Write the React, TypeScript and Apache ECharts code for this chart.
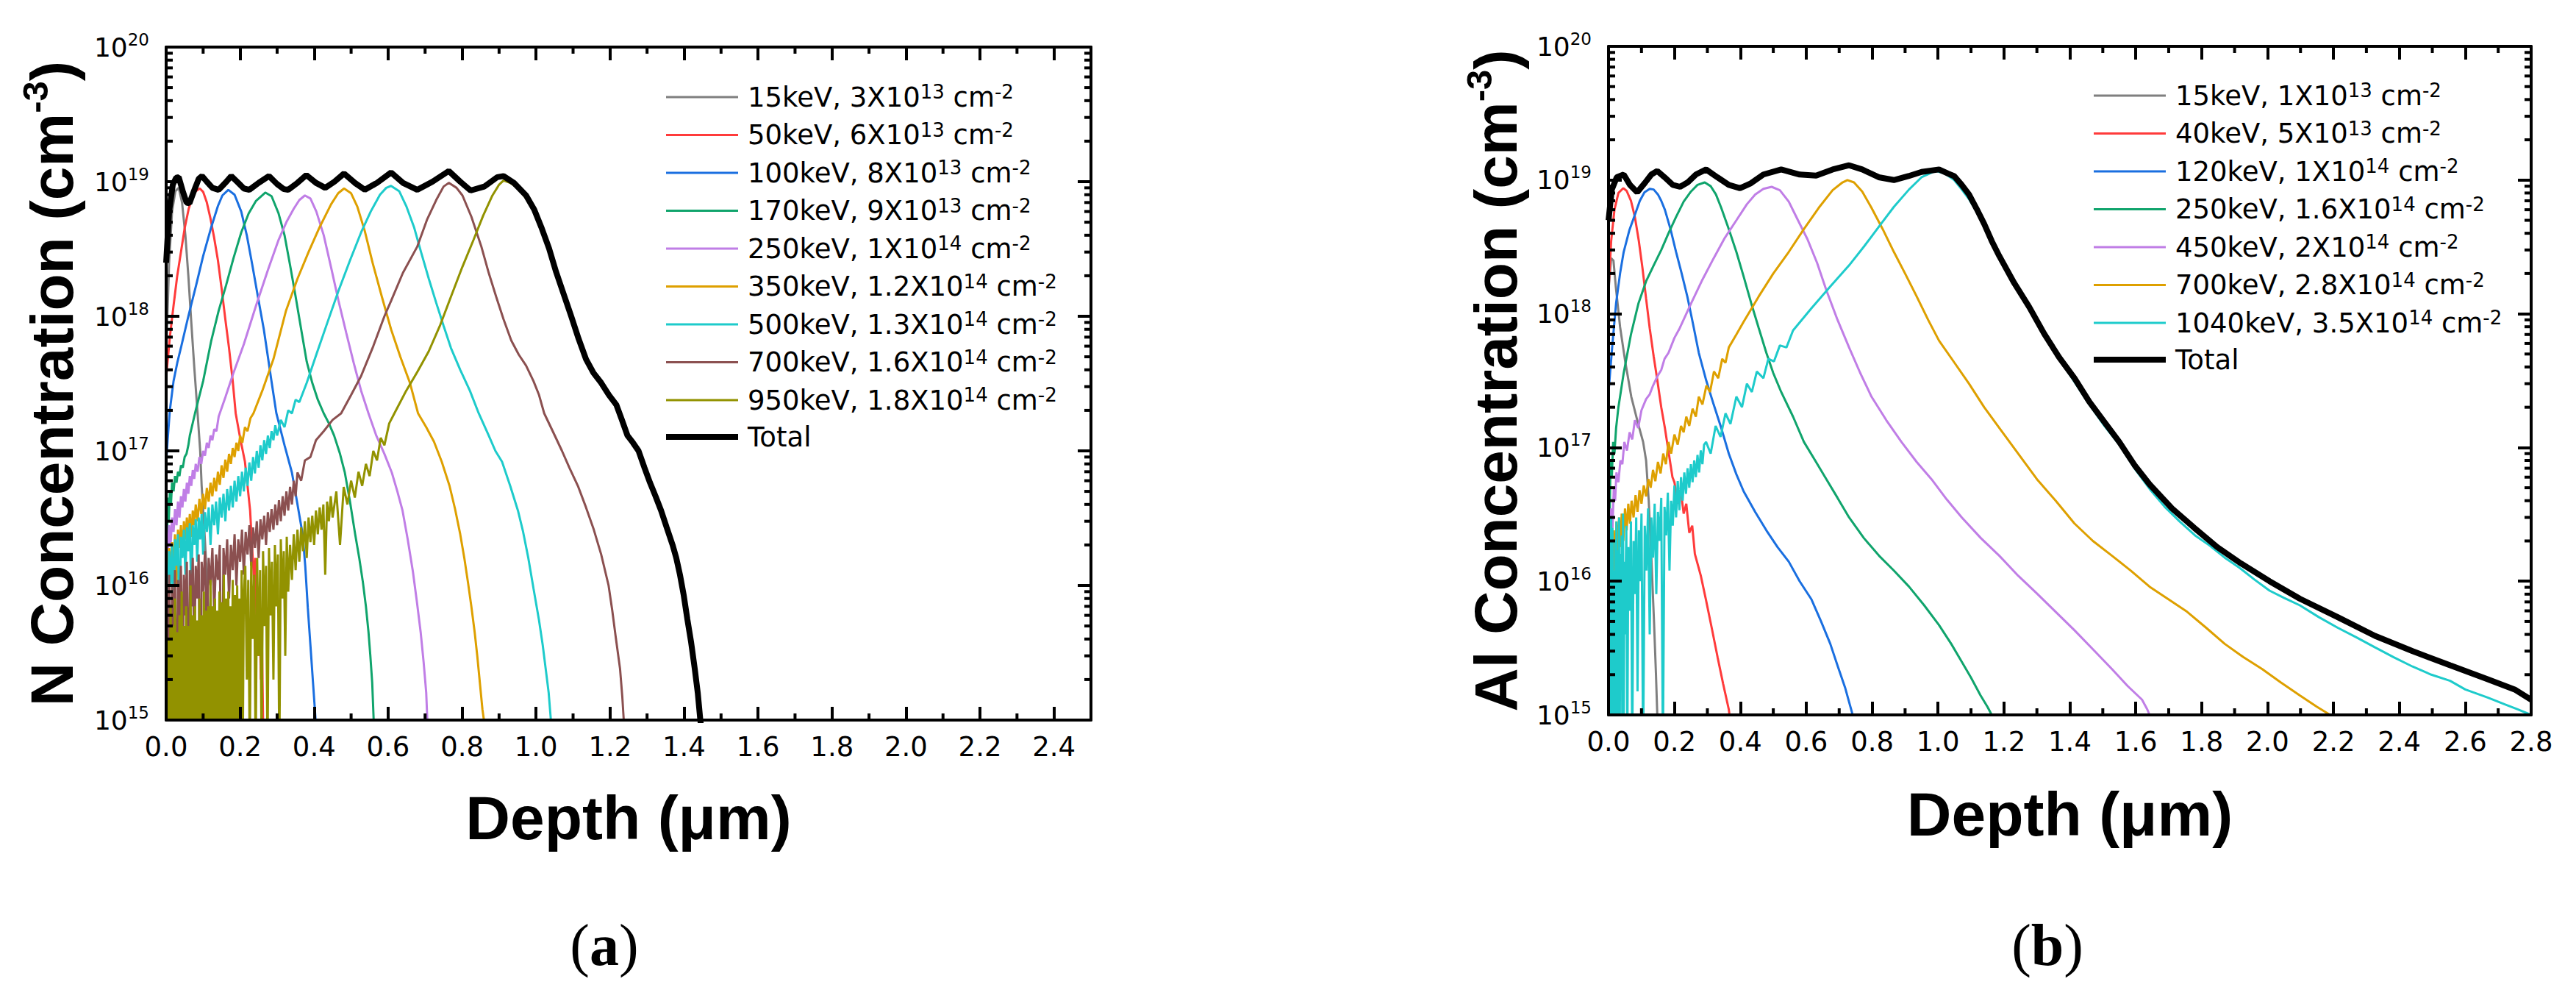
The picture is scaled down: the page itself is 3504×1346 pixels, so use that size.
import React, { useEffect, useRef } from "react";
import * as echarts from "echarts";

type Pt = [number, number];

// ---------------- Panel (a): N implantation ----------------
const nEnergies = ["15keV", "50keV", "100keV", "170keV", "250keV", "350keV", "500keV", "700keV", "950keV"];
const nDoseMant = ["3", "6", "8", "9", "1", "1.2", "1.3", "1.6", "1.8"];
const nDoseExp = ["13", "13", "13", "13", "14", "14", "14", "14", "14"];

const n15: Pt[] = [[0,5e17],[0.008,2.5e18],[0.016,6e18],[0.025,8.5e18],[0.034,9e18],[0.043,7e18],[0.052,4e18],[0.06,2e18],[0.068,9e17],[0.076,4.2e17],[0.085,1.9e17],[0.092,1e17],[0.096,5.5e16],[0.102,3e16],[0.108,1.5e16],[0.115,6e15],[0.122,2.5e15],[0.13,1e15],[0.136,6e14]];
const n50: Pt[] = [[0,3.5e17],[0.01,7e17],[0.02,1.2e18],[0.03,2e18],[0.04,3e18],[0.05,4.5e18],[0.061,6.3e18],[0.07,7.5e18],[0.08,8.5e18],[0.091,8.9e18],[0.1,8.4e18],[0.11,7e18],[0.12,5.3e18],[0.13,3.8e18],[0.14,2.6e18],[0.15,1.6e18],[0.16,9.5e17],[0.17,5.8e17],[0.18,3.3e17],[0.188,1.9e17],[0.2,1.25e17],[0.213,8.3e16],[0.22,5.5e16],[0.227,3.6e16],[0.232,2e16],[0.238,1.05e16],[0.241,1.6e16],[0.244,6e15],[0.247,9e15],[0.25,3e15],[0.253,6e15],[0.256,2e15],[0.259,4e15],[0.262,1e15],[0.265,6e14]];
const n100: Pt[] = [[0,8e16],[0.004,1.2e17],[0.01,2e17],[0.02,3.3e17],[0.03,4.5e17],[0.041,6e17],[0.06,1e18],[0.081,1.7e18],[0.1,2.8e18],[0.122,4.6e18],[0.14,6.6e18],[0.152,7.9e18],[0.168,8.7e18],[0.185,8e18],[0.203,6e18],[0.218,4e18],[0.233,2.4e18],[0.248,1.4e18],[0.264,8e17],[0.275,5e17],[0.284,3.4e17],[0.298,1.9e17],[0.32,1.1e17],[0.34,6.9e16],[0.355,4e16],[0.369,2.4e16],[0.376,1.4e16],[0.383,6.8e15],[0.39,3.6e15],[0.397,1.9e15],[0.404,1e15],[0.41,6e14]];
const n170: Pt[] = [[0,3e16],[0.002,1.5e16],[0.004,4.5e16],[0.007,3e16],[0.01,5e16],[0.013,4e16],[0.016,5.8e16],[0.02,5e16],[0.024,6.5e16],[0.028,5.8e16],[0.032,7e16],[0.036,6.5e16],[0.04,7.8e16],[0.045,7.5e16],[0.05,9e16],[0.055,9.5e16],[0.06,1.1e17],[0.064,1.3e17],[0.078,1.9e17],[0.1,3.3e17],[0.122,6.6e17],[0.142,1.1e18],[0.162,1.7e18],[0.182,2.7e18],[0.203,4.2e18],[0.223,5.8e18],[0.243,7.2e18],[0.268,8.3e18],[0.285,7.8e18],[0.304,5.8e18],[0.32,4e18],[0.335,2.4e18],[0.35,1.4e18],[0.365,8e17],[0.38,4.6e17],[0.395,3.2e17],[0.41,2.4e17],[0.426,1.9e17],[0.44,1.6e17],[0.454,1.3e17],[0.47,9.5e16],[0.483,6.9e16],[0.497,4.2e16],[0.511,2.4e16],[0.522,1.6e16],[0.532,1.05e16],[0.54,7e15],[0.547,4.5e15],[0.552,3e15],[0.557,1.9e15],[0.561,1e15],[0.565,6e14]];
const n250: Pt[] = [[0,2.3e16],[0.004,1.6e16],[0.008,2.8e16],[0.012,2e16],[0.016,3.2e16],[0.02,2.5e16],[0.024,3.7e16],[0.028,2.8e16],[0.032,4.2e16],[0.036,3.2e16],[0.04,4.6e16],[0.044,3.8e16],[0.048,5.2e16],[0.052,4.2e16],[0.056,5.8e16],[0.06,4.8e16],[0.064,6.5e16],[0.068,5.5e16],[0.072,7.2e16],[0.076,6.2e16],[0.08,8e16],[0.085,7e16],[0.09,9e16],[0.095,8e16],[0.1,1e17],[0.105,9.2e16],[0.11,1.15e17],[0.115,1.05e17],[0.12,1.3e17],[0.125,1.2e17],[0.13,1.45e17],[0.136,1.4e17],[0.142,1.8e17],[0.16,2.5e17],[0.182,3.8e17],[0.21,6.2e17],[0.243,1.2e18],[0.275,2.2e18],[0.304,3.7e18],[0.325,5e18],[0.345,6.3e18],[0.36,7.3e18],[0.375,7.9e18],[0.39,7.5e18],[0.406,6e18],[0.426,4e18],[0.446,2.3e18],[0.466,1.3e18],[0.487,7.5e17],[0.507,4.5e17],[0.527,2.8e17],[0.547,1.9e17],[0.568,1.3e17],[0.59,9.5e16],[0.61,6.9e16],[0.625,5e16],[0.639,3.6e16],[0.653,2.2e16],[0.667,1.27e16],[0.678,7.5e15],[0.688,4.5e15],[0.696,2.7e15],[0.703,1.6e15],[0.706,1e15],[0.71,6e14]];
const n350: Pt[] = [[0,1.6e16],[0.004,8e15],[0.008,1.9e16],[0.012,1.2e16],[0.016,2.1e16],[0.02,1.5e16],[0.024,2.4e16],[0.028,1e16],[0.032,2.6e16],[0.036,1.9e16],[0.04,2.8e16],[0.044,1.7e16],[0.048,3e16],[0.052,2.2e16],[0.056,3.2e16],[0.06,2.4e16],[0.064,3.4e16],[0.068,2.3e16],[0.072,3.6e16],[0.076,2.8e16],[0.08,4e16],[0.085,3e16],[0.09,4.4e16],[0.095,3.4e16],[0.1,4.8e16],[0.105,3.7e16],[0.11,5.3e16],[0.115,4.2e16],[0.12,5.8e16],[0.125,4.6e16],[0.13,6.3e16],[0.135,5e16],[0.14,7e16],[0.145,5.6e16],[0.15,7.8e16],[0.155,6.3e16],[0.16,8.6e16],[0.165,7e16],[0.17,9.5e16],[0.175,8e16],[0.18,1.05e17],[0.185,9e16],[0.19,1.15e17],[0.195,1e17],[0.2,1.3e17],[0.206,1.15e17],[0.213,1.5e17],[0.22,1.4e17],[0.228,1.75e17],[0.236,1.9e17],[0.26,2.8e17],[0.29,4.8e17],[0.324,1.1e18],[0.355,1.9e18],[0.385,3e18],[0.415,4.6e18],[0.446,6.8e18],[0.465,8.2e18],[0.481,8.9e18],[0.5,8.2e18],[0.517,6.5e18],[0.537,4.3e18],[0.558,2.5e18],[0.583,1.4e18],[0.608,8e17],[0.633,5e17],[0.659,3.2e17],[0.681,1.9e17],[0.703,1.5e17],[0.724,1.17e17],[0.745,8.3e16],[0.766,5.5e16],[0.781,3.7e16],[0.795,2.4e16],[0.806,1.6e16],[0.816,1.05e16],[0.825,7e15],[0.834,4.5e15],[0.841,3e15],[0.848,1.9e15],[0.855,1.2e15],[0.859,1e15],[0.863,6e14]];
const n500: Pt[] = [[0,1.5e16],[0.004,6e15],[0.008,1.8e16],[0.012,1e16],[0.016,2e16],[0.02,7e15],[0.024,2.2e16],[0.028,1.4e16],[0.032,2.4e16],[0.036,4e15],[0.04,2.3e16],[0.044,1.6e16],[0.048,2.6e16],[0.052,1.2e16],[0.056,2.7e16],[0.06,1.8e16],[0.064,2.9e16],[0.068,8e15],[0.072,2.8e16],[0.076,2e16],[0.08,3.1e16],[0.084,1.5e16],[0.088,3.2e16],[0.092,2.2e16],[0.096,3.4e16],[0.1,1.7e16],[0.105,3.5e16],[0.11,2.5e16],[0.115,3.8e16],[0.12,2e16],[0.125,4e16],[0.13,2.8e16],[0.135,4.2e16],[0.14,2.4e16],[0.145,4.5e16],[0.15,3.2e16],[0.155,4.8e16],[0.16,3e16],[0.165,5.2e16],[0.17,3.6e16],[0.175,5.5e16],[0.18,3.8e16],[0.185,6e16],[0.19,4.2e16],[0.195,6.5e16],[0.2,4.6e16],[0.205,7e16],[0.21,5e16],[0.215,7.5e16],[0.22,5.5e16],[0.225,8.2e16],[0.23,6e16],[0.235,9e16],[0.24,6.8e16],[0.245,1e17],[0.25,7.5e16],[0.255,1.1e17],[0.26,8.5e16],[0.265,1.2e17],[0.27,9.5e16],[0.275,1.3e17],[0.28,1.05e17],[0.285,1.4e17],[0.29,1.2e17],[0.295,1.55e17],[0.3,1.3e17],[0.31,1.7e17],[0.32,1.5e17],[0.33,2e17],[0.34,1.9e17],[0.35,2.4e17],[0.36,2.3e17],[0.38,3.2e17],[0.406,5.2e17],[0.436,9e17],[0.466,1.55e18],[0.497,2.6e18],[0.527,4.2e18],[0.553,6e18],[0.578,8e18],[0.595,9e18],[0.608,9.3e18],[0.63,8.5e18],[0.649,6.6e18],[0.67,4.6e18],[0.689,3e18],[0.71,1.9e18],[0.73,1.26e18],[0.75,8.5e17],[0.77,5.8e17],[0.795,4e17],[0.821,2.8e17],[0.845,1.9e17],[0.872,1.3e17],[0.89,1e17],[0.908,8.3e16],[0.93,5.5e16],[0.951,3.6e16],[0.965,2.5e16],[0.979,1.6e16],[0.993,9.5e15],[1.008,5.5e15],[1.018,3.6e15],[1.026,2.4e15],[1.034,1.6e15],[1.04,1e15],[1.045,6e14]];
const n700: Pt[] = [[0,9e15],[0.004,3e15],[0.008,1.2e16],[0.012,5e14],[0.016,1e16],[0.02,4e15],[0.024,1.3e16],[0.028,6e14],[0.032,1.1e16],[0.036,5e15],[0.04,1.4e16],[0.044,2e15],[0.048,1.2e16],[0.052,6e15],[0.056,1.5e16],[0.06,8e14],[0.064,1.3e16],[0.068,7e15],[0.072,1.6e16],[0.076,3e15],[0.08,1.4e16],[0.084,8e15],[0.088,1.7e16],[0.092,5e14],[0.096,1.5e16],[0.1,9e15],[0.105,1.8e16],[0.11,4e15],[0.115,1.6e16],[0.12,1e16],[0.125,1.9e16],[0.13,6e15],[0.135,1.7e16],[0.14,1.1e16],[0.145,2e16],[0.15,5e14],[0.155,1.9e16],[0.16,1.2e16],[0.165,2.2e16],[0.17,8e15],[0.175,2e16],[0.18,1.3e16],[0.185,2.4e16],[0.19,1e16],[0.195,2.2e16],[0.2,1.5e16],[0.205,2.6e16],[0.21,1.2e16],[0.215,2.5e16],[0.22,1.7e16],[0.225,2.8e16],[0.23,1.4e16],[0.235,2.7e16],[0.24,1.9e16],[0.245,3e16],[0.25,1.6e16],[0.255,3.1e16],[0.26,2.2e16],[0.265,3.3e16],[0.27,2e16],[0.275,3.5e16],[0.28,2.5e16],[0.285,3.7e16],[0.29,2.6e16],[0.295,4e16],[0.3,2.8e16],[0.305,4.3e16],[0.31,3e16],[0.315,4.6e16],[0.32,3.3e16],[0.325,5e16],[0.33,3.6e16],[0.335,5.4e16],[0.34,4e16],[0.345,6e16],[0.35,4.6e16],[0.355,6.9e16],[0.365,6e16],[0.375,8.5e16],[0.39,9e16],[0.405,1.2e17],[0.426,1.4e17],[0.45,1.7e17],[0.473,1.9e17],[0.5,2.6e17],[0.527,3.6e17],[0.56,6e17],[0.59,1e18],[0.608,1.3e18],[0.64,2.1e18],[0.679,3.3e18],[0.705,5.2e18],[0.73,7.3e18],[0.75,9.2e18],[0.764,9.8e18],[0.785,9e18],[0.801,7.9e18],[0.825,5.5e18],[0.852,3.3e18],[0.872,2.1e18],[0.892,1.4e18],[0.912,9.5e17],[0.933,6.6e17],[0.953,5.2e17],[0.973,4.3e17],[0.993,3.3e17],[1.008,2.6e17],[1.022,1.9e17],[1.045,1.4e17],[1.07,1e17],[1.09,7.5e16],[1.113,5.5e16],[1.135,3.8e16],[1.156,2.6e16],[1.176,1.7e16],[1.196,1e16],[1.206,6.5e15],[1.216,4e15],[1.227,2.4e15],[1.233,1.5e15],[1.237,1e15],[1.24,6e14]];
const n950: Pt[] = [[0,6e15],[0.003,5e14],[0.006,4e15],[0.009,5e14],[0.012,7e15],[0.015,6e14],[0.018,5e15],[0.021,5e14],[0.024,8e15],[0.027,5e14],[0.03,4.5e15],[0.033,7e14],[0.036,6e15],[0.039,5e14],[0.042,9e15],[0.045,5e14],[0.048,5e15],[0.051,6e14],[0.054,7e15],[0.057,5e14],[0.06,5e15],[0.063,5e14],[0.066,1e16],[0.069,5e14],[0.072,6e15],[0.075,8e14],[0.078,7e15],[0.081,5e14],[0.084,5.5e15],[0.087,5e14],[0.09,8e15],[0.093,5e14],[0.096,6e15],[0.099,6e14],[0.102,9e15],[0.105,5e14],[0.108,6.5e15],[0.111,5e14],[0.114,7e15],[0.117,5e14],[0.12,1.1e16],[0.123,5e14],[0.126,7e15],[0.129,7e14],[0.132,8e15],[0.135,5e14],[0.138,6.5e15],[0.141,5e14],[0.144,9e15],[0.147,5e14],[0.15,7.5e15],[0.153,6e14],[0.156,1.2e16],[0.159,5e14],[0.162,8e15],[0.165,5e14],[0.168,9e15],[0.171,5e14],[0.174,7e15],[0.177,8e14],[0.18,1.1e16],[0.183,5e14],[0.186,8.5e15],[0.189,5e14],[0.192,1e16],[0.195,6e14],[0.198,8e15],[0.201,5e14],[0.204,1.3e16],[0.207,5e14],[0.21,9e15],[0.214,1.4e16],[0.218,2e15],[0.222,1.1e16],[0.226,5e14],[0.23,1.5e16],[0.234,4e15],[0.238,1.2e16],[0.242,5e14],[0.246,1.6e16],[0.25,3e15],[0.254,1.3e16],[0.258,6e14],[0.262,1.8e16],[0.266,5e15],[0.27,1.4e16],[0.274,5e14],[0.278,1.9e16],[0.282,6e15],[0.286,1.5e16],[0.29,2e15],[0.294,2e16],[0.298,7e15],[0.302,1.7e16],[0.306,5e14],[0.31,2.2e16],[0.314,8e15],[0.318,1.8e16],[0.322,3e15],[0.326,2.3e16],[0.33,9e15],[0.335,2e16],[0.34,1.1e16],[0.345,2.4e16],[0.35,1.3e16],[0.355,2.6e16],[0.36,1.5e16],[0.365,2.7e16],[0.37,1.8e16],[0.375,3e16],[0.38,1.6e16],[0.385,3.2e16],[0.39,2.1e16],[0.395,3.3e16],[0.4,2e16],[0.405,3.6e16],[0.41,2.4e16],[0.415,3.8e16],[0.42,2.6e16],[0.425,4e16],[0.43,1.2e16],[0.435,4.2e16],[0.44,3e16],[0.445,4.6e16],[0.45,3.2e16],[0.46,5e16],[0.47,2e16],[0.48,5.4e16],[0.49,4e16],[0.5,6e16],[0.51,4.5e16],[0.52,7e16],[0.53,5.5e16],[0.54,8e16],[0.55,6.5e16],[0.56,1e17],[0.57,8.5e16],[0.58,1.25e17],[0.59,1.1e17],[0.603,1.6e17],[0.617,1.9e17],[0.649,2.8e17],[0.68,3.9e17],[0.71,5.5e17],[0.74,8.5e17],[0.77,1.4e18],[0.8,2.3e18],[0.831,3.7e18],[0.857,5.6e18],[0.882,7.9e18],[0.9,9.5e18],[0.912,1.02e19],[0.93,9.8e18],[0.95,9e18],[0.973,7.5e18],[0.995,6e18],[1.014,4.5e18],[1.035,3.1e18],[1.054,2.1e18],[1.075,1.4e18],[1.095,9.8e17],[1.115,6.7e17],[1.135,4.7e17],[1.155,3.7e17],[1.176,3.1e17],[1.197,2.5e17],[1.217,2.1e17],[1.232,1.65e17],[1.247,1.28e17],[1.262,1.12e17],[1.277,9.8e16],[1.293,7.3e16],[1.308,5.7e16],[1.323,4.5e16],[1.338,3.5e16],[1.353,2.65e16],[1.369,1.95e16],[1.379,1.55e16],[1.389,1.15e16],[1.399,8.2e15],[1.409,5.4e15],[1.419,3.7e15],[1.429,2.3e15],[1.437,1.5e15],[1.444,9.5e14]];
const nTotal: Pt[] = [[0,2.5e18],[0.008,6e18],[0.018,9.5e18],[0.027,1.07e19],[0.034,1.08e19],[0.045,8.5e18],[0.055,7e18],[0.063,6.9e18],[0.075,8.5e18],[0.088,1.05e19],[0.097,1.1e19],[0.11,1e19],[0.125,9e18],[0.142,8.7e18],[0.16,9.8e18],[0.176,1.1e19],[0.195,9.8e18],[0.21,8.9e18],[0.225,8.7e18],[0.25,9.8e18],[0.278,1.1e19],[0.3,9.6e18],[0.318,8.8e18],[0.33,8.7e18],[0.355,9.8e18],[0.379,1.12e19],[0.405,9.8e18],[0.43,9e18],[0.455,1e19],[0.481,1.15e19],[0.51,9.8e18],[0.537,8.7e18],[0.57,9.8e18],[0.608,1.17e19],[0.64,9.8e18],[0.679,8.7e18],[0.72,1e19],[0.764,1.2e19],[0.795,1e19],[0.823,8.6e18],[0.86,9.2e18],[0.895,1.08e19],[0.912,1.1e19],[0.94,9.8e18],[0.973,7.9e18],[0.995,6.2e18],[1.014,4.6e18],[1.035,3.2e18],[1.054,2.14e18],[1.075,1.45e18],[1.095,1e18],[1.115,6.8e17],[1.135,4.8e17],[1.155,3.8e17],[1.176,3.2e17],[1.197,2.6e17],[1.217,2.2e17],[1.232,1.7e17],[1.247,1.3e17],[1.262,1.15e17],[1.277,1e17],[1.293,7.5e16],[1.308,5.8e16],[1.323,4.6e16],[1.338,3.6e16],[1.353,2.7e16],[1.369,2e16],[1.379,1.6e16],[1.389,1.2e16],[1.399,8.5e15],[1.409,5.6e15],[1.419,3.8e15],[1.429,2.4e15],[1.437,1.6e15],[1.444,1e15],[1.45,7e14]];

// ---------------- Panel (b): Al implantation ----------------
const alEnergies = ["15keV", "40keV", "120keV", "250keV", "450keV", "700keV", "1040keV"];
const alDoseMant = ["1", "5", "1", "1.6", "2", "2.8", "3.5"];
const alDoseExp = ["13", "13", "14", "14", "14", "14", "14"];

const al15: Pt[] = [[0,1.5e18],[0.008,2.6e18],[0.015,2.5e18],[0.022,1.6e18],[0.035,8e17],[0.05,4.5e17],[0.069,2.4e17],[0.09,1.5e17],[0.105,1.1e17],[0.114,8e16],[0.122,4e16],[0.13,1.5e16],[0.138,5e15],[0.144,2e15],[0.148,1e15],[0.152,6e14]];
const al40: Pt[] = [[0,1.5e18],[0.008,3.5e18],[0.018,6e18],[0.03,8e18],[0.045,8.7e18],[0.055,8.3e18],[0.068,7e18],[0.08,5.3e18],[0.092,3.5e18],[0.103,2.2e18],[0.114,1.3e18],[0.125,7.8e17],[0.137,4.8e17],[0.148,3.2e17],[0.16,2e17],[0.171,1.4e17],[0.183,9e16],[0.194,6e16],[0.2,5.5e16],[0.21,3.8e16],[0.22,4.6e16],[0.228,3.2e16],[0.236,3.8e16],[0.245,2.3e16],[0.254,2.6e16],[0.262,1.6e16],[0.28,1.1e16],[0.296,7.2e15],[0.313,4.5e15],[0.331,2.7e15],[0.348,1.7e15],[0.365,1.1e15],[0.372,8e14]];
const al120: Pt[] = [[0,2.6e17],[0.012,6e17],[0.023,1.2e18],[0.035,2e18],[0.046,2.9e18],[0.063,4.2e18],[0.08,5.5e18],[0.095,7e18],[0.109,8.1e18],[0.125,8.6e18],[0.137,8.5e18],[0.15,7.8e18],[0.16,7e18],[0.171,6e18],[0.188,4.3e18],[0.205,2.9e18],[0.222,2e18],[0.239,1.35e18],[0.256,8.5e17],[0.274,5.1e17],[0.296,3.2e17],[0.319,2.1e17],[0.342,1.4e17],[0.365,9e16],[0.388,6.3e16],[0.41,4.7e16],[0.445,3.3e16],[0.479,2.4e16],[0.513,1.8e16],[0.547,1.4e16],[0.58,1e16],[0.616,7.3e15],[0.645,5e15],[0.673,3.4e15],[0.696,2.3e15],[0.718,1.6e15],[0.73,1.25e15],[0.741,1e15],[0.75,7e14]];
const al250: Pt[] = [[0,5e16],[0.003,2.5e16],[0.006,8e16],[0.01,6e16],[0.014,1.1e17],[0.018,9e16],[0.023,1.4e17],[0.03,2e17],[0.046,3.6e17],[0.068,7e17],[0.091,1.2e18],[0.114,1.75e18],[0.137,2.3e18],[0.16,3e18],[0.182,4e18],[0.205,5.3e18],[0.228,6.9e18],[0.25,8.2e18],[0.27,9.2e18],[0.292,9.6e18],[0.31,9e18],[0.326,7.8e18],[0.342,6.2e18],[0.365,4.3e18],[0.388,2.9e18],[0.41,1.9e18],[0.433,1.2e18],[0.456,7.8e17],[0.479,5.1e17],[0.5,3.6e17],[0.524,2.6e17],[0.56,1.7e17],[0.593,1.1e17],[0.627,8e16],[0.661,5.8e16],[0.695,4.2e16],[0.73,3e16],[0.775,2.1e16],[0.821,1.55e16],[0.866,1.2e16],[0.912,9.1e15],[0.958,6.6e15],[1.003,4.7e15],[1.04,3.4e15],[1.072,2.5e15],[1.1,1.9e15],[1.129,1.4e15],[1.15,1.15e15],[1.163,1e15],[1.17,8e14]];
const al450: Pt[] = [[0,2.2e16],[0.004,1.2e16],[0.008,3.5e16],[0.012,2.5e16],[0.016,5e16],[0.02,4e16],[0.024,6.5e16],[0.03,5.5e16],[0.036,8e16],[0.042,7.5e16],[0.048,1.1e17],[0.056,9.5e16],[0.064,1.3e17],[0.072,1.15e17],[0.08,1.6e17],[0.09,1.4e17],[0.1,1.9e17],[0.114,2.3e17],[0.125,2.5e17],[0.135,2.9e17],[0.148,3.4e17],[0.16,3.8e17],[0.17,4.6e17],[0.182,5.1e17],[0.2,6.6e17],[0.216,7.8e17],[0.251,1.2e18],[0.285,1.8e18],[0.319,2.6e18],[0.353,3.7e18],[0.388,5e18],[0.42,6.6e18],[0.445,7.8e18],[0.47,8.6e18],[0.495,8.9e18],[0.52,8.4e18],[0.547,6.9e18],[0.575,5e18],[0.604,3.6e18],[0.633,2.4e18],[0.661,1.5e18],[0.695,9e17],[0.73,5.6e17],[0.764,3.6e17],[0.798,2.4e17],[0.843,1.6e17],[0.889,1.1e17],[0.935,7.8e16],[0.98,5.8e16],[1.026,4.1e16],[1.072,3e16],[1.13,2.1e16],[1.186,1.55e16],[1.243,1.1e16],[1.3,8.1e15],[1.357,5.9e15],[1.414,4.3e15],[1.47,3.1e15],[1.528,2.2e15],[1.575,1.65e15],[1.619,1.3e15],[1.635,1.1e15],[1.642,1e15],[1.65,8e14]];
const al700: Pt[] = [[0,1.2e16],[0.004,6e15],[0.008,2e16],[0.012,9e15],[0.016,2.4e16],[0.02,1.2e16],[0.024,2.8e16],[0.028,1.5e16],[0.032,3e16],[0.036,1.8e16],[0.04,3.2e16],[0.045,2e16],[0.05,3.5e16],[0.055,2.4e16],[0.06,3.8e16],[0.065,2.7e16],[0.07,4e16],[0.076,3e16],[0.082,4.4e16],[0.088,3.3e16],[0.094,4.8e16],[0.1,3.8e16],[0.107,5.2e16],[0.114,4.3e16],[0.121,5.8e16],[0.128,5e16],[0.135,6.8e16],[0.142,5.6e16],[0.15,7.8e16],[0.158,6.4e16],[0.166,9e16],[0.174,7.5e16],[0.182,1.1e17],[0.19,9e16],[0.2,1.25e17],[0.21,1.05e17],[0.22,1.45e17],[0.228,1.3e17],[0.236,1.7e17],[0.245,1.45e17],[0.255,1.95e17],[0.265,1.7e17],[0.274,2.4e17],[0.285,2.1e17],[0.297,2.9e17],[0.308,2.6e17],[0.32,3.7e17],[0.333,3.3e17],[0.345,4.6e17],[0.355,4.3e17],[0.365,5.6e17],[0.388,7e17],[0.41,8.7e17],[0.456,1.35e18],[0.5,2e18],[0.547,2.9e18],[0.593,4.3e18],[0.638,6.2e18],[0.68,8.4e18],[0.71,9.6e18],[0.725,1e19],[0.745,9.6e18],[0.77,8.2e18],[0.798,6.2e18],[0.832,4.3e18],[0.866,2.9e18],[0.9,2e18],[0.935,1.35e18],[0.97,9e17],[1.003,6.3e17],[1.05,4.3e17],[1.094,3e17],[1.14,2e17],[1.186,1.4e17],[1.243,9e16],[1.3,5.8e16],[1.357,4e16],[1.414,2.7e16],[1.47,2e16],[1.528,1.55e16],[1.585,1.2e16],[1.642,9.1e15],[1.7,7.3e15],[1.756,5.9e15],[1.813,4.5e15],[1.87,3.4e15],[1.927,2.7e15],[1.984,2.2e15],[2.04,1.75e15],[2.098,1.4e15],[2.15,1.15e15],[2.19,1e15],[2.2,8e14]];
const al1040: Pt[] = [[0,2e16],[0.002,5e14],[0.004,1.5e16],[0.006,5e14],[0.008,3e16],[0.01,5e14],[0.012,2.5e16],[0.014,6e14],[0.016,1.2e16],[0.018,5e14],[0.02,2e16],[0.022,5e14],[0.024,2.8e16],[0.026,8e14],[0.028,1.7e16],[0.03,5e14],[0.032,3e16],[0.034,5e14],[0.036,1.6e16],[0.038,2e15],[0.04,2.2e16],[0.042,5e14],[0.044,3.2e16],[0.046,5e14],[0.048,1.4e16],[0.05,4e15],[0.054,2.6e16],[0.057,5e14],[0.06,1.8e16],[0.064,6e15],[0.068,2.8e16],[0.072,5e14],[0.076,2e16],[0.08,8e15],[0.084,3e16],[0.088,1.5e15],[0.092,2.4e16],[0.096,1e16],[0.1,3.2e16],[0.105,5e14],[0.11,2.6e16],[0.115,1.2e16],[0.12,3.5e16],[0.125,4e15],[0.13,3e16],[0.135,1.5e16],[0.14,3.8e16],[0.145,8e15],[0.15,3.3e16],[0.155,2e16],[0.16,4.2e16],[0.165,5e14],[0.17,3.6e16],[0.175,2.2e16],[0.18,4.6e16],[0.185,1.2e16],[0.19,4e16],[0.195,2.6e16],[0.2,5.2e16],[0.205,3e16],[0.21,5.6e16],[0.215,3.4e16],[0.22,6e16],[0.225,4e16],[0.23,6.5e16],[0.235,4.5e16],[0.24,7e16],[0.245,5e16],[0.25,7.5e16],[0.255,5.5e16],[0.26,8e16],[0.265,6e16],[0.27,8.8e16],[0.275,6.5e16],[0.28,9.5e16],[0.285,7.5e16],[0.29,1.05e17],[0.296,1.1e17],[0.31,9e16],[0.325,1.45e17],[0.34,1.2e17],[0.355,1.8e17],[0.37,1.5e17],[0.388,2.4e17],[0.405,2e17],[0.42,3e17],[0.435,2.6e17],[0.45,3.7e17],[0.47,3.3e17],[0.485,4.6e17],[0.502,4.4e17],[0.52,5.8e17],[0.54,5.6e17],[0.56,7.5e17],[0.616,1.1e18],[0.673,1.6e18],[0.73,2.3e18],[0.776,3.2e18],[0.821,4.5e18],[0.866,6.3e18],[0.912,8.5e18],[0.95,1.05e19],[0.992,1.17e19],[1.02,1.12e19],[1.049,1e19],[1.072,8.5e18],[1.094,7.2e18],[1.117,5.8e18],[1.14,4.5e18],[1.163,3.4e18],[1.186,2.6e18],[1.231,1.65e18],[1.277,1.1e18],[1.322,7e17],[1.368,4.6e17],[1.414,3.1e17],[1.459,2.1e17],[1.505,1.45e17],[1.55,1.05e17],[1.596,7e16],[1.642,4.9e16],[1.688,3.6e16],[1.733,2.8e16],[1.78,2.2e16],[1.824,1.85e16],[1.87,1.5e16],[1.915,1.26e16],[1.96,1.03e16],[2.006,8.5e15],[2.05,7.5e15],[2.098,6.6e15],[2.155,5.4e15],[2.212,4.5e15],[2.27,3.8e15],[2.326,3.2e15],[2.383,2.7e15],[2.44,2.3e15],[2.497,2e15],[2.554,1.8e15],[2.6,1.55e15],[2.668,1.35e15],[2.72,1.2e15],[2.759,1.1e15],[2.8,1e15]];
const alTotal: Pt[] = [[0,5e18],[0.01,8.5e18],[0.025,1.05e19],[0.046,1.1e19],[0.065,9.2e18],[0.087,8.1e18],[0.11,9.5e18],[0.13,1.1e19],[0.148,1.17e19],[0.17,1.05e19],[0.195,9.2e18],[0.217,8.9e18],[0.24,9.6e18],[0.265,1.1e19],[0.296,1.2e19],[0.33,1.05e19],[0.365,9.2e18],[0.399,8.7e18],[0.43,9.4e18],[0.47,1.1e19],[0.524,1.2e19],[0.58,1.1e19],[0.63,1.08e19],[0.68,1.2e19],[0.73,1.29e19],[0.77,1.2e19],[0.82,1.05e19],[0.866,1e19],[0.91,1.07e19],[0.95,1.15e19],[1.003,1.2e19],[1.03,1.12e19],[1.049,1.07e19],[1.072,9.2e18],[1.094,7.8e18],[1.117,6.1e18],[1.14,4.7e18],[1.163,3.5e18],[1.186,2.7e18],[1.231,1.7e18],[1.277,1.12e18],[1.322,7.1e17],[1.368,4.7e17],[1.414,3.3e17],[1.459,2.2e17],[1.505,1.55e17],[1.55,1.1e17],[1.596,7.4e16],[1.642,5.3e16],[1.71,3.5e16],[1.778,2.5e16],[1.847,1.8e16],[1.915,1.38e16],[2.006,1e16],[2.098,7.4e15],[2.212,5.4e15],[2.326,3.9e15],[2.44,3e15],[2.554,2.35e15],[2.668,1.85e15],[2.75,1.55e15],[2.8,1.3e15]];

// ---------------- Axis ticks ----------------
const nXMinor = [0.1, 0.3, 0.5, 0.7, 0.9, 1.1, 1.3, 1.5, 1.7, 1.9, 2.1, 2.3];
const alXMinor = [0.1, 0.3, 0.5, 0.7, 0.9, 1.1, 1.3, 1.5, 1.7, 1.9, 2.1, 2.3, 2.5, 2.7];
const decades = [15, 16, 17, 18, 19];
const logMantissas = [2, 3, 4, 5, 6, 7, 8, 9];
const Y_MIN = 1e15;
const Y_MAX = 1e20;

// ---------------- Styling ----------------
const nColors = ["#7f7f7f", "#ff3b3b", "#1a6fe0", "#10a46c", "#c07ee6", "#dea000", "#1ecbcb", "#8b5050", "#929200"];
const alColors = ["#7f7f7f", "#ff3b3b", "#1a6fe0", "#10a46c", "#c07ee6", "#dea000", "#1ecbcb"];
const SANS = "'DejaVu Sans', sans-serif";
const ARIAL = "'Liberation Sans', Arial, sans-serif";
const SERIF = "'Liberation Serif', 'Times New Roman', serif";
const LINE_W = 3;
const TOTAL_W = 8;

function minorTickRender(params: any, api: any) {
  const cs = params.coordSys;
  const kind = api.value(2);
  const len = 9;
  const st = { stroke: "#000", lineWidth: 4 };
  const p = api.coord([api.value(0), api.value(1)]);
  if (kind === 0) {
    const x = p[0];
    return {
      type: "group",
      children: [
        { type: "line", shape: { x1: x, y1: cs.y + cs.height, x2: x, y2: cs.y + cs.height - len }, style: st },
        { type: "line", shape: { x1: x, y1: cs.y, x2: x, y2: cs.y + len }, style: st },
      ],
    };
  }
  const y = p[1];
  return {
    type: "group",
    children: [
      { type: "line", shape: { x1: cs.x, y1: y, x2: cs.x + len, y2: y }, style: st },
      { type: "line", shape: { x1: cs.x + cs.width, y1: y, x2: cs.x + cs.width - len, y2: y }, style: st },
    ],
  };
}

function buildOption() {
  const axisLine = { show: true, onZero: false, lineStyle: { color: "#000", width: 4 } };
  const axisTick = { show: true, inside: true, length: 18, lineStyle: { color: "#000", width: 4 } };

  const xAxisPair = (gridIndex: number, max: number, gap: number) => [
    {
      type: "value", gridIndex, position: "bottom", min: 0, max, interval: 0.2,
      name: "Depth (\u03bcm)", nameLocation: "middle", nameGap: gap, nameMoveOverlap: false,
      nameTextStyle: { fontFamily: ARIAL, fontWeight: "bold", fontSize: 84, color: "#000" },
      axisLine, axisTick,
      axisLabel: {
        show: true, margin: 18, fontFamily: SANS, fontSize: 37, color: "#000", hideOverlap: false,
        formatter: (v: number) => (Math.abs(v / 0.2 - Math.round(v / 0.2)) < 1e-6 ? v.toFixed(1) : ""),
      },
      splitLine: { show: false }, minorTick: { show: false }, z: 10,
    },
    {
      type: "value", gridIndex, position: "top", min: 0, max, interval: 0.2,
      axisLine, axisTick, axisLabel: { show: false }, splitLine: { show: false }, z: 10,
    },
  ];

  const yRich = {
    b: { fontFamily: SANS, fontSize: 36, lineHeight: 44, color: "#000" },
    s: { fontFamily: SANS, fontSize: 23, lineHeight: 26, verticalAlign: "top", color: "#000" },
  };
  const nameRich = {
    b: { fontFamily: ARIAL, fontWeight: "bold", fontSize: 82, lineHeight: 94, color: "#000" },
    s: { fontFamily: ARIAL, fontWeight: "bold", fontSize: 49, lineHeight: 46, verticalAlign: "top", color: "#000" },
  };
  const yAxisPair = (gridIndex: number, title: string, gap: number) => [
    {
      type: "log", logBase: 10, gridIndex, position: "left", min: Y_MIN, max: Y_MAX, splitNumber: 5,
      name: title, nameLocation: "middle", nameGap: gap, nameRotate: 90, nameMoveOverlap: false,
      nameTextStyle: { color: "#000", rich: nameRich },
      axisLine, axisTick,
      axisLabel: {
        show: true, margin: 23, hideOverlap: false,
        formatter: (v: number) => `{b|10}{s|${Math.round(Math.log10(v))}}`,
        rich: yRich,
      },
      splitLine: { show: false }, minorTick: { show: false }, z: 10,
    },
    {
      type: "log", logBase: 10, gridIndex, position: "right", min: Y_MIN, max: Y_MAX, splitNumber: 5,
      axisLine, axisTick, axisLabel: { show: false }, splitLine: { show: false }, z: 10,
    },
  ];

  const yMinorValues: number[] = [];
  decades.forEach((d) => logMantissas.forEach((m) => yMinorValues.push(m * Math.pow(10, d))));

  const tickSeries = (xAxisIndex: number, yAxisIndex: number, xMinor: number[]) => ({
    type: "custom", xAxisIndex, yAxisIndex, silent: true, z: 10,
    encode: { x: 0, y: 1 },
    data: [...xMinor.map((v) => [v, Y_MIN, 0]), ...yMinorValues.map((v) => [0, v, 1])],
    renderItem: minorTickRender,
  });

  const legendText = new Map<string, string>();
  const series: any[] = [];
  const nData = [n15, n50, n100, n170, n250, n350, n500, n700, n950];
  nEnergies.forEach((e, i) => {
    const name = `N ${e}`;
    legendText.set(name, `{t|${e}, ${nDoseMant[i]}X10}{s|${nDoseExp[i]}}{t| cm}{s|-2}`);
    series.push({
      type: "line", name, xAxisIndex: 0, yAxisIndex: 0, data: nData[i], symbol: "none", showSymbol: false,
      lineStyle: { color: nColors[i], width: LINE_W }, itemStyle: { color: nColors[i] }, silent: true, z: 2,
    });
  });
  legendText.set("N Total", "{t|Total}");
  series.push({
    type: "line", name: "N Total", xAxisIndex: 0, yAxisIndex: 0, data: nTotal, symbol: "none", showSymbol: false,
    lineStyle: { color: "#000", width: TOTAL_W }, itemStyle: { color: "#000" }, silent: true, z: 3,
  });

  const alData = [al15, al40, al120, al250, al450, al700, al1040];
  alEnergies.forEach((e, i) => {
    const name = `Al ${e}`;
    legendText.set(name, `{t|${e}, ${alDoseMant[i]}X10}{s|${alDoseExp[i]}}{t| cm}{s|-2}`);
    series.push({
      type: "line", name, xAxisIndex: 2, yAxisIndex: 2, data: alData[i], symbol: "none", showSymbol: false,
      lineStyle: { color: alColors[i], width: LINE_W }, itemStyle: { color: alColors[i] }, silent: true, z: 2,
    });
  });
  legendText.set("Al Total", "{t|Total}");
  series.push({
    type: "line", name: "Al Total", xAxisIndex: 2, yAxisIndex: 2, data: alTotal, symbol: "none", showSymbol: false,
    lineStyle: { color: "#000", width: TOTAL_W }, itemStyle: { color: "#000" }, silent: true, z: 3,
  });

  series.push(tickSeries(0, 0, nXMinor));
  series.push(tickSeries(2, 2, alXMinor));

  const legendRich = {
    t: { fontFamily: SANS, fontSize: 37, lineHeight: 40, color: "#000" },
    s: { fontFamily: SANS, fontSize: 26, lineHeight: 24, verticalAlign: "top", color: "#000" },
  };
  const legendBase = {
    orient: "vertical", padding: 0, itemGap: 13, itemWidth: 98, itemHeight: 14, align: "left",
    selectedMode: false,
    itemStyle: { opacity: 0, borderWidth: 0 },
    formatter: (name: string) => legendText.get(name) || name,
    textStyle: { color: "#000", fontFamily: SANS, fontSize: 37, padding: [0, 0, 0, 8], rich: legendRich },
  };
  const legendItems = (names: string[], colors: string[], totalName: string) => [
    ...names.map((n, i) => ({ name: n, lineStyle: { width: LINE_W, color: colors[i] } })),
    { name: totalName, lineStyle: { width: TOTAL_W, color: "#000" } },
  ];

  return {
    animation: false,
    backgroundColor: "#fff",
    grid: [
      { left: 226, top: 64, width: 1258, height: 915, containLabel: false, outerBoundsMode: "none" },
      { left: 2188, top: 63, width: 1255, height: 909, containLabel: false, outerBoundsMode: "none" },
    ],
    xAxis: [...xAxisPair(0, 2.5, 91), ...xAxisPair(1, 2.8, 93)],
    yAxis: [
      ...yAxisPair(0, "{b|N Concentration (cm}{s|-3}{b|)}", 109),
      ...yAxisPair(1, "{b|Al Concentration (cm}{s|-3}{b|)}", 107),
    ],
    legend: [
      { ...legendBase, left: 902, top: 112, data: legendItems(nEnergies.map((e) => `N ${e}`), nColors, "N Total") },
      { ...legendBase, left: 2844, top: 110, data: legendItems(alEnergies.map((e) => `Al ${e}`), alColors, "Al Total") },
    ],
    graphic: [
      {
        type: "text", x: 822, y: 1285,
        style: {
          text: "{p|(}{a|a}{p|)}", align: "center", verticalAlign: "middle",
          rich: {
            p: { fontFamily: SERIF, fontSize: 80, fill: "#000", color: "#000" },
            a: { fontFamily: SERIF, fontSize: 80, fontWeight: "bold", fill: "#000", color: "#000" },
          },
        },
      },
      {
        type: "text", x: 2785, y: 1285,
        style: {
          text: "{p|(}{a|b}{p|)}", align: "center", verticalAlign: "middle",
          rich: {
            p: { fontFamily: SERIF, fontSize: 80, fill: "#000", color: "#000" },
            a: { fontFamily: SERIF, fontSize: 80, fontWeight: "bold", fill: "#000", color: "#000" },
          },
        },
      },
    ],
    series,
  };
}

export default function App() {
  const ref = useRef<HTMLDivElement>(null);
  useEffect(() => {
    if (!ref.current) return;
    const chart = echarts.init(ref.current, null, { renderer: "svg" });
    chart.setOption(buildOption() as any);
    return () => chart.dispose();
  }, []);
  return (
    <div
      ref={ref}
      style={{ position: "fixed", left: 0, top: 0, width: 3504, height: 1346, background: "#fff" }}
    />
  );
}
